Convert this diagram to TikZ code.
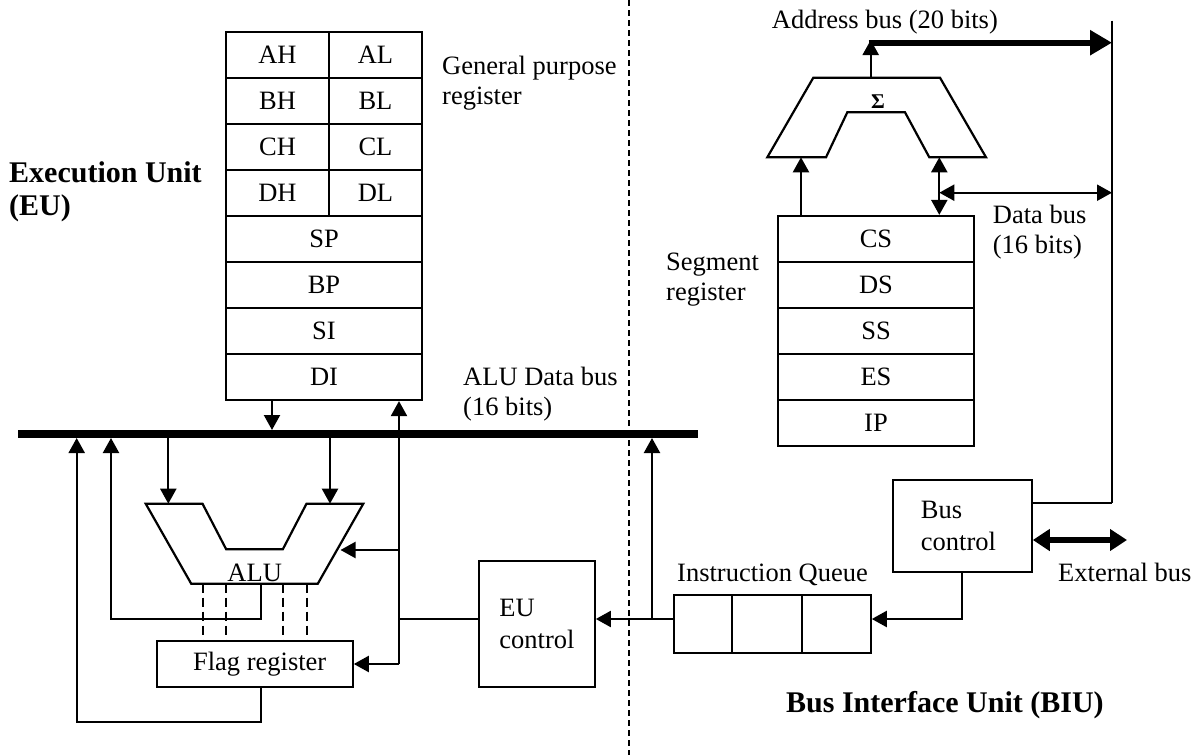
\documentclass[tikz,border=0pt]{standalone}
\usepackage{fontspec}
\setmainfont{Liberation Serif}
\usetikzlibrary{arrows.meta}
% two-line label whose baseline is that of its first line
\newcommand\twoln[2]{\begin{tabular}[t]{@{}l@{}}#1\\#2\end{tabular}}
\begin{document}
\begin{tikzpicture}[x=1pt,y=-1pt,
  wire/.style={line width=2.2pt},
  arr/.style={wire,-{Triangle[width=16pt,length=15pt]}},
  darr/.style={wire,{Triangle[width=16pt,length=15pt]}-{Triangle[width=16pt,length=15pt]}},
  cell/.style={draw,line width=2.2pt,inner sep=0pt,minimum height=46pt,font=\fontsize{26.5}{32}\selectfont},
  ctlbox/.style={draw,line width=2.2pt,inner sep=0pt,align=left,font=\fontsize{26.5}{32}\selectfont},
  lbl/.style={inner sep=0pt,anchor=base west,font=\fontsize{26.5}{30}\selectfont},
  unit/.style={inner sep=0pt,anchor=base west,font=\bfseries\fontsize{30}{33}\selectfont},
  divider/.style={line width=2pt,dash pattern=on 6pt off 4pt},
  flagline/.style={line width=2pt,dash pattern=on 9pt off 5pt},
  bus/.style={line width=8.5pt},
  ]
\useasboundingbox (0,0) rectangle (1199,755);

% ---------------- general purpose registers ----------------
\node[cell,minimum width=103pt] (ah) at (277.5,55)  {AH};
\node[cell,minimum width=93pt]  (al) at (375.5,55)  {AL};
\node[cell,minimum width=103pt] (bh) at (277.5,101) {BH};
\node[cell,minimum width=93pt]  (bl) at (375.5,101) {BL};
\node[cell,minimum width=103pt] (ch) at (277.5,147) {CH};
\node[cell,minimum width=93pt]  (cl) at (375.5,147) {CL};
\node[cell,minimum width=103pt] (dh) at (277.5,193) {DH};
\node[cell,minimum width=93pt]  (dl) at (375.5,193) {DL};
\node[cell,minimum width=196pt] (sp) at (324,239) {SP};
\node[cell,minimum width=196pt] (bp) at (324,285) {BP};
\node[cell,minimum width=196pt] (si) at (324,331) {SI};
\node[cell,minimum width=196pt] (di) at (324,377) {DI};

% ---------------- segment registers ----------------
\node[cell,minimum width=196pt] (cs) at (876,239) {CS};
\node[cell,minimum width=196pt] (ds) at (876,285) {DS};
\node[cell,minimum width=196pt] (ss) at (876,331) {SS};
\node[cell,minimum width=196pt] (es) at (876,377) {ES};
\node[cell,minimum width=196pt] (ip) at (876,423) {IP};

% ---------------- control blocks and queue ----------------
\node[cell,minimum width=196pt,minimum height=46.3pt] (flag) at (254.7,664) {\hspace*{10pt}Flag register};
\node[ctlbox,minimum width=115.7pt,minimum height=126.3pt] (euc) at (536.9,624.2) {EU\\control};
\node[ctlbox,minimum width=138.4pt,minimum height=91.7pt] (busctl) at (962.5,525.9) {Bus\\control\hspace*{8pt}};
\node[cell,minimum width=58pt,minimum height=57.7pt] (q1) at (703.3,623.9) {};
\node[cell,minimum width=69.4pt,minimum height=57.7pt] (q2) at (767,623.9) {};
\node[cell,minimum width=69pt,minimum height=57.7pt] (q3) at (836.2,623.9) {};

% ---------------- ALU ----------------
\draw[wire,line join=miter] (145.7,503.7) -- (202.5,503.7) -- (226.2,549.3) -- (282.8,549.3)
  -- (306.5,503.7) -- (363.3,503.7) -- (317.8,583.7) -- (191.2,583.7) -- cycle;
\node[inner sep=0pt,font=\fontsize{26.5}{30}\selectfont] (alulbl) at (254.7,573) {ALU};
\foreach \x in {202.5,226.2,282.8,306.5}
  \draw[flagline] (\x,583.7) -- (\x,641);

% ---------------- address adder ----------------
\draw[wire,line join=miter] (813.3,77.7) -- (940,77.7) -- (986,157.3) -- (929.3,157.3)
  -- (905,112.3) -- (847.3,112.3) -- (826,157.3) -- (767.3,157.3) -- cycle;
\node[inner sep=0pt,font=\bfseries\fontsize{21}{24}\selectfont] (sigma) at (878,101.7) {Σ};

% ---------------- key points ----------------
\coordinate (busW) at (18,434);
\coordinate (busE) at (698,434);
\coordinate (busT) at (0,430);
\coordinate (busB) at (0,438);
\coordinate (diOut) at ([xshift=-52pt]di.south);
\coordinate (diIn)  at ([xshift=75pt]di.south);
\coordinate (aluA) at (168.3,503.7);
\coordinate (aluB) at (330,503.7);
\coordinate (aluR) at (340.5,550);
\coordinate (aluOut) at (260.7,583.7);
\coordinate (fbA) at (111,618.7);
\coordinate (fbB) at (76.7,722.3);
\coordinate (ctl) at (0,619);
\coordinate (qTap) at (652,619);
\coordinate (bcOut) at (962.3,571.7);
\coordinate (sumOut) at (870.7,77.7);
\coordinate (sumTop) at (870.7,40);
\coordinate (addrL) at (868.5,42.7);
\coordinate (addrR) at (1112,42.7);
\coordinate (addrTop) at (1112,20.7);
\coordinate (addrBot) at (1112,503.3);
\coordinate (sumA) at (801,157.3);
\coordinate (sumB) at (939.3,157.3);
\coordinate (dbus) at (939.3,192.7);
\coordinate (ext) at (1127,540);

% ---------------- ALU data bus ----------------
\draw[bus] (busW) -- (busE);
\draw[arr] (diOut) -- (diOut |- busT);
\draw[arr] (diIn |- flag.east) -- (diIn);
\draw[arr] (aluA |- busB) -- (aluA);
\draw[arr] (aluB |- busB) -- (aluB);
\draw[arr] (diIn |- aluR) -- (aluR);
\draw[arr] (diIn |- flag.east) -- (flag.east);
\draw[wire] (euc.west |- ctl) -- (diIn |- ctl);
\draw[arr] (aluOut) |- (fbA) -- (fbA |- busB);
\draw[arr] (flag.south -| aluOut) |- (fbB) -- (fbB |- busB);

% ---------------- bus interface side ----------------
\draw[arr] (q1.west |- ctl) -- (euc.east |- ctl);
\draw[arr] (qTap) -- (qTap |- busB);
\draw[arr] (bcOut) |- (q3.east |- ctl);
\draw[arr] (sumA |- cs.north) -- (sumA);
\draw[darr] (sumB |- cs.north) -- (sumB);
\draw[darr] (dbus) -- (dbus -| addrR);
\draw[arr] (sumOut) -- (sumTop);
\draw[line width=6.3pt,-{Triangle[width=24pt,length=22pt]}] (addrL) -- (addrR);
\draw[line width=1.6pt] (addrTop) -- (addrBot);
\draw[wire] (busctl.east |- addrBot) -- (addrBot);
\draw[line width=6pt,{Triangle[width=21pt,length=17pt]}-{Triangle[width=21pt,length=17pt]}] (busctl.east |- ext) -- (ext);

% ---------------- EU / BIU boundary ----------------
\draw[divider] (628.5,0) -- (628.5,755);

% ---------------- labels ----------------
\node[lbl] (gplbl) at (442,74) {\twoln{General purpose}{register}};
\node[lbl] (buslbl) at (463,385) {\twoln{ALU Data bus}{(16 bits)}};
\node[lbl] (addrlbl) at (771.7,28) {Address bus (20 bits)};
\node[lbl] (dbuslbl) at (992.7,223) {\twoln{Data bus}{(16 bits)}};
\node[lbl] (seglbl) at (666,270) {\twoln{Segment}{register}};
\node[lbl] (iqlbl) at (677,581.7) {Instruction Queue};
\node[lbl] (extlbl) at (1058,581.7) {External bus};
\node[unit] (eulbl) at (9,182) {\twoln{Execution Unit}{(EU)}};
\node[unit] (biulbl) at (786,712) {Bus Interface Unit (BIU)};
\end{tikzpicture}
\end{document}
